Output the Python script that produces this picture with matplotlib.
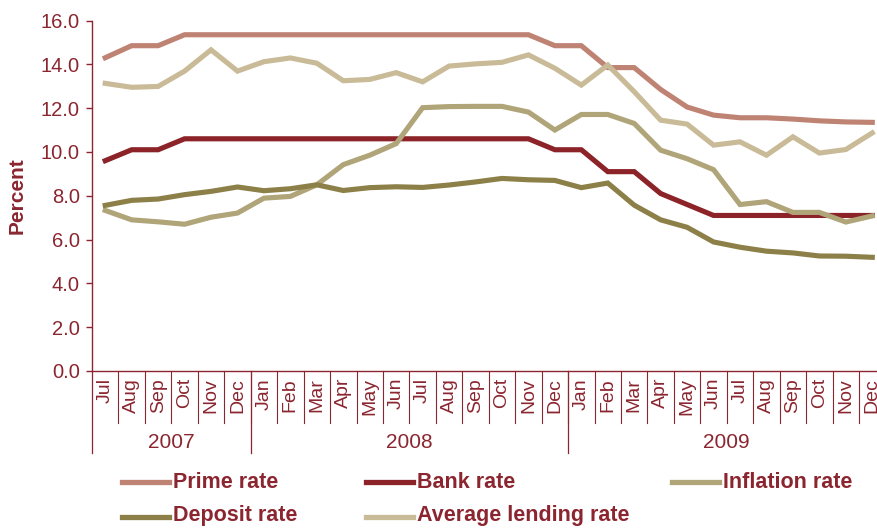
import matplotlib
matplotlib.use("Agg")
import matplotlib.pyplot as plt
from matplotlib.lines import Line2D
from matplotlib.transforms import blended_transform_factory

# %% data: monthly rates, Jul 2007 - Dec 2009 (percent)
months = ["Jul", "Aug", "Sep", "Oct", "Nov", "Dec",
          "Jan", "Feb", "Mar", "Apr", "May", "Jun", "Jul", "Aug", "Sep", "Oct", "Nov", "Dec",
          "Jan", "Feb", "Mar", "Apr", "May", "Jun", "Jul", "Aug", "Sep", "Oct", "Nov", "Dec"]
years = ["2007", "2008", "2009"]
months_per_year = [6, 12, 12]

prime_rate = [14.3, 14.85, 14.85, 15.35, 15.35, 15.35,
              15.35, 15.35, 15.35, 15.35, 15.35, 15.35, 15.35, 15.35, 15.35, 15.35, 15.35, 14.85,
              14.85, 13.85, 13.85, 12.85, 12.05, 11.68, 11.56, 11.56, 11.5, 11.42, 11.37, 11.35]
bank_rate = [9.6, 10.1, 10.1, 10.6, 10.6, 10.6,
             10.6, 10.6, 10.6, 10.6, 10.6, 10.6, 10.6, 10.6, 10.6, 10.6, 10.6, 10.1,
             10.1, 9.1, 9.1, 8.1, 7.6, 7.1, 7.1, 7.1, 7.1, 7.1, 7.1, 7.1]
inflation_rate = [7.33, 6.9, 6.81, 6.7, 7.02, 7.21,
                  7.89, 7.97, 8.5, 9.42, 9.85, 10.38, 12.02, 12.07, 12.08, 12.08, 11.82, 11.0,
                  11.71, 11.71, 11.3, 10.08, 9.69, 9.19, 7.6, 7.73, 7.24, 7.24, 6.8, 7.08]
deposit_rate = [7.56, 7.79, 7.85, 8.05, 8.2, 8.4,
                8.23, 8.32, 8.5, 8.24, 8.37, 8.41, 8.38, 8.49, 8.63, 8.79, 8.73, 8.7,
                8.37, 8.58, 7.57, 6.9, 6.56, 5.89, 5.65, 5.47, 5.39, 5.25, 5.24, 5.19]
avg_lending_rate = [13.13, 12.95, 12.99, 13.69, 14.66, 13.69,
                    14.12, 14.29, 14.05, 13.25, 13.31, 13.62, 13.2, 13.92, 14.02, 14.09, 14.43, 13.82,
                    13.05, 13.97, 12.75, 11.45, 11.27, 10.31, 10.46, 9.85, 10.69, 9.95, 10.11, 10.87]

# %% styles
txt = "#8b2630"
series = [
    ("Prime rate", prime_rate, "#bf8374"),
    ("Bank rate", bank_rate, "#8b2328"),
    ("Inflation rate", inflation_rate, "#b0a479"),
    ("Deposit rate", deposit_rate, "#8c8048"),
    ("Average lending rate", avg_lending_rate, "#c9bb98"),
]
plt.rcParams["font.family"] = ["Liberation Sans", "DejaVu Sans"]

W, H = 877, 529
fig = plt.figure(figsize=(W / 100, H / 100), dpi=100)
ax = fig.add_axes([92 / W, 1 - 371 / H, (30 * 26.45) / W, (371 - 20.5) / H])

x = list(range(len(months)))
for name, vals, col in series:
    ax.plot(x, vals, color=col, lw=3.7, solid_joinstyle="miter", clip_on=False)

ax.set_xlim(-0.5, len(months) - 0.5)
ax.set_ylim(0, 16)
ax.set_yticks([0, 2, 4, 6, 8, 10, 12, 14, 16])
ax.set_yticklabels(["%.1f" % v for v in ax.get_yticks()])
ax.set_xticks(x)
ax.set_xticklabels(months, rotation=90)
ax.tick_params(axis="x", length=0, pad=5, labelsize=14, colors=txt)
ax.tick_params(axis="y", length=4.5, width=1, pad=4.3, labelsize=14.5, colors=txt)

for s in ["top", "right"]:
    ax.spines[s].set_visible(False)
for s in ["left", "bottom"]:
    ax.spines[s].set_color(txt)
    ax.spines[s].set_linewidth(1)

ax.set_ylabel("Percent", color=txt, fontsize=15, fontweight="bold", labelpad=10)

# month separators and year groups below the x axis
trans = blended_transform_factory(ax.transData, ax.transAxes)
ax_h = 371 - 20.5
for i in range(1, len(months) + 1):
    ax.plot([i - 0.5, i - 0.5], [0, -52 / ax_h], color=txt, lw=0.8, transform=trans, clip_on=False)
start = 0
for yr, n in zip(years, months_per_year):
    ax.plot([start - 0.5, start - 0.5], [0, -82 / ax_h], color=txt, lw=0.9,
            transform=trans, clip_on=False)
    ax.text(start + (n - 1) / 2, -72 / ax_h, yr, transform=trans, ha="center", va="center",
            color=txt, fontsize=15)
    start += n

# legend, laid out in two rows below the chart
legend_pos = [(122, 482, 488), (366, 482, 488), (672, 482, 488), (122, 516.5, 521), (366, 516.5, 521)]
for (name, vals, col), (lx, ly, ty) in zip(series, legend_pos):
    fig.add_artist(Line2D([lx / W, (lx + 47) / W], [1 - ly / H, 1 - ly / H],
                          color=col, lw=3.8, transform=fig.transFigure))
    fig.text((lx + 51) / W, 1 - ty / H, name, ha="left", va="baseline", color=txt,
             fontsize=15.5, fontweight="bold")

fig.savefig("out.png", dpi=100)
